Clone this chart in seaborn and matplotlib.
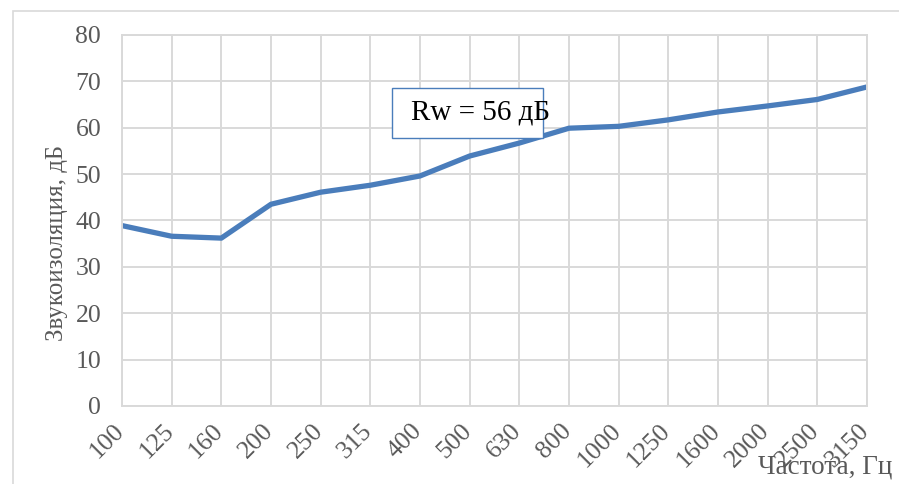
import matplotlib
matplotlib.use("Agg")
import pandas as pd
import seaborn as sns
import matplotlib.pyplot as plt
import matplotlib.transforms as mtransforms
from matplotlib.patches import Rectangle

# данные
freqs = ["100", "125", "160", "200", "250", "315", "400", "500", "630",
         "800", "1000", "1250", "1600", "2000", "2500", "3150"]
insulation = [38.9, 36.6, 36.2, 43.5, 46.1, 47.6, 49.6, 53.9, 56.7,
              59.9, 60.3, 61.7, 63.4, 64.7, 66.1, 68.8]
rw_text = "Rw = 56 дБ"

df = pd.DataFrame({"freq": freqs, "R": insulation})

sns.set_style("white")
plt.rcParams['font.family'] = ['Liberation Serif', 'DejaVu Serif']

fig = plt.figure(figsize=(8.99, 4.84), dpi=100)
ax = fig.add_axes([0.1357, 0.1612, 0.8287, 0.7665])

grey = "#d9d9d9"
txt = "#595959"

sns.lineplot(data=df, x="freq", y="R", sort=False, ax=ax,
             color="#4a7dbb", linewidth=3.8, solid_capstyle="round")

ax.set_xlim(0, len(freqs) - 1)
ax.set_ylim(0, 80)
ax.set_yticks(range(0, 81, 10))
ax.grid(True, color=grey, linewidth=1.4)
ax.set_axisbelow(True)
for s in ax.spines.values():
    s.set_color(grey)
    s.set_linewidth(1.4)

ax.tick_params(axis="both", length=0, labelsize=18.5, labelcolor=txt)
ax.tick_params(axis="y", pad=15)
ax.tick_params(axis="x", pad=10)
shift = mtransforms.ScaledTranslation(-9 / 100, 0, fig.dpi_scale_trans)
for lab in ax.get_xticklabels():
    lab.set_rotation(45)
    lab.set_ha("right")
    lab.set_va("top")
    lab.set_rotation_mode("anchor")
    lab.set_transform(lab.get_transform() + shift)

ax.set_xlabel("")
ax.set_ylabel("Звукоизоляция, дБ", fontsize=17.9, color=txt)
ax.yaxis.set_label_coords(-0.072, 0.44)
fig.text(0.993, 0.01, "Частота, Гц", fontsize=19.5, color=txt, ha="right", va="bottom")

# подпись Rw в рамке
ax.add_patch(Rectangle((0.362, 0.723), 0.203, 0.135, transform=ax.transAxes,
                       fill=True, facecolor="white", edgecolor="#4a7dbb", linewidth=1.0, zorder=3))
ax.text(0.388, 0.79, rw_text, transform=ax.transAxes, fontsize=21, color="black",
        ha="left", va="center", zorder=4)

# внешняя рамка
fig.patches.append(Rectangle((13 / 899, -0.1), 1.2, 1 - 11 / 484 + 0.1, transform=fig.transFigure,
                             fill=False, edgecolor=grey, linewidth=1.2))

fig.savefig("out.png", dpi=100)
